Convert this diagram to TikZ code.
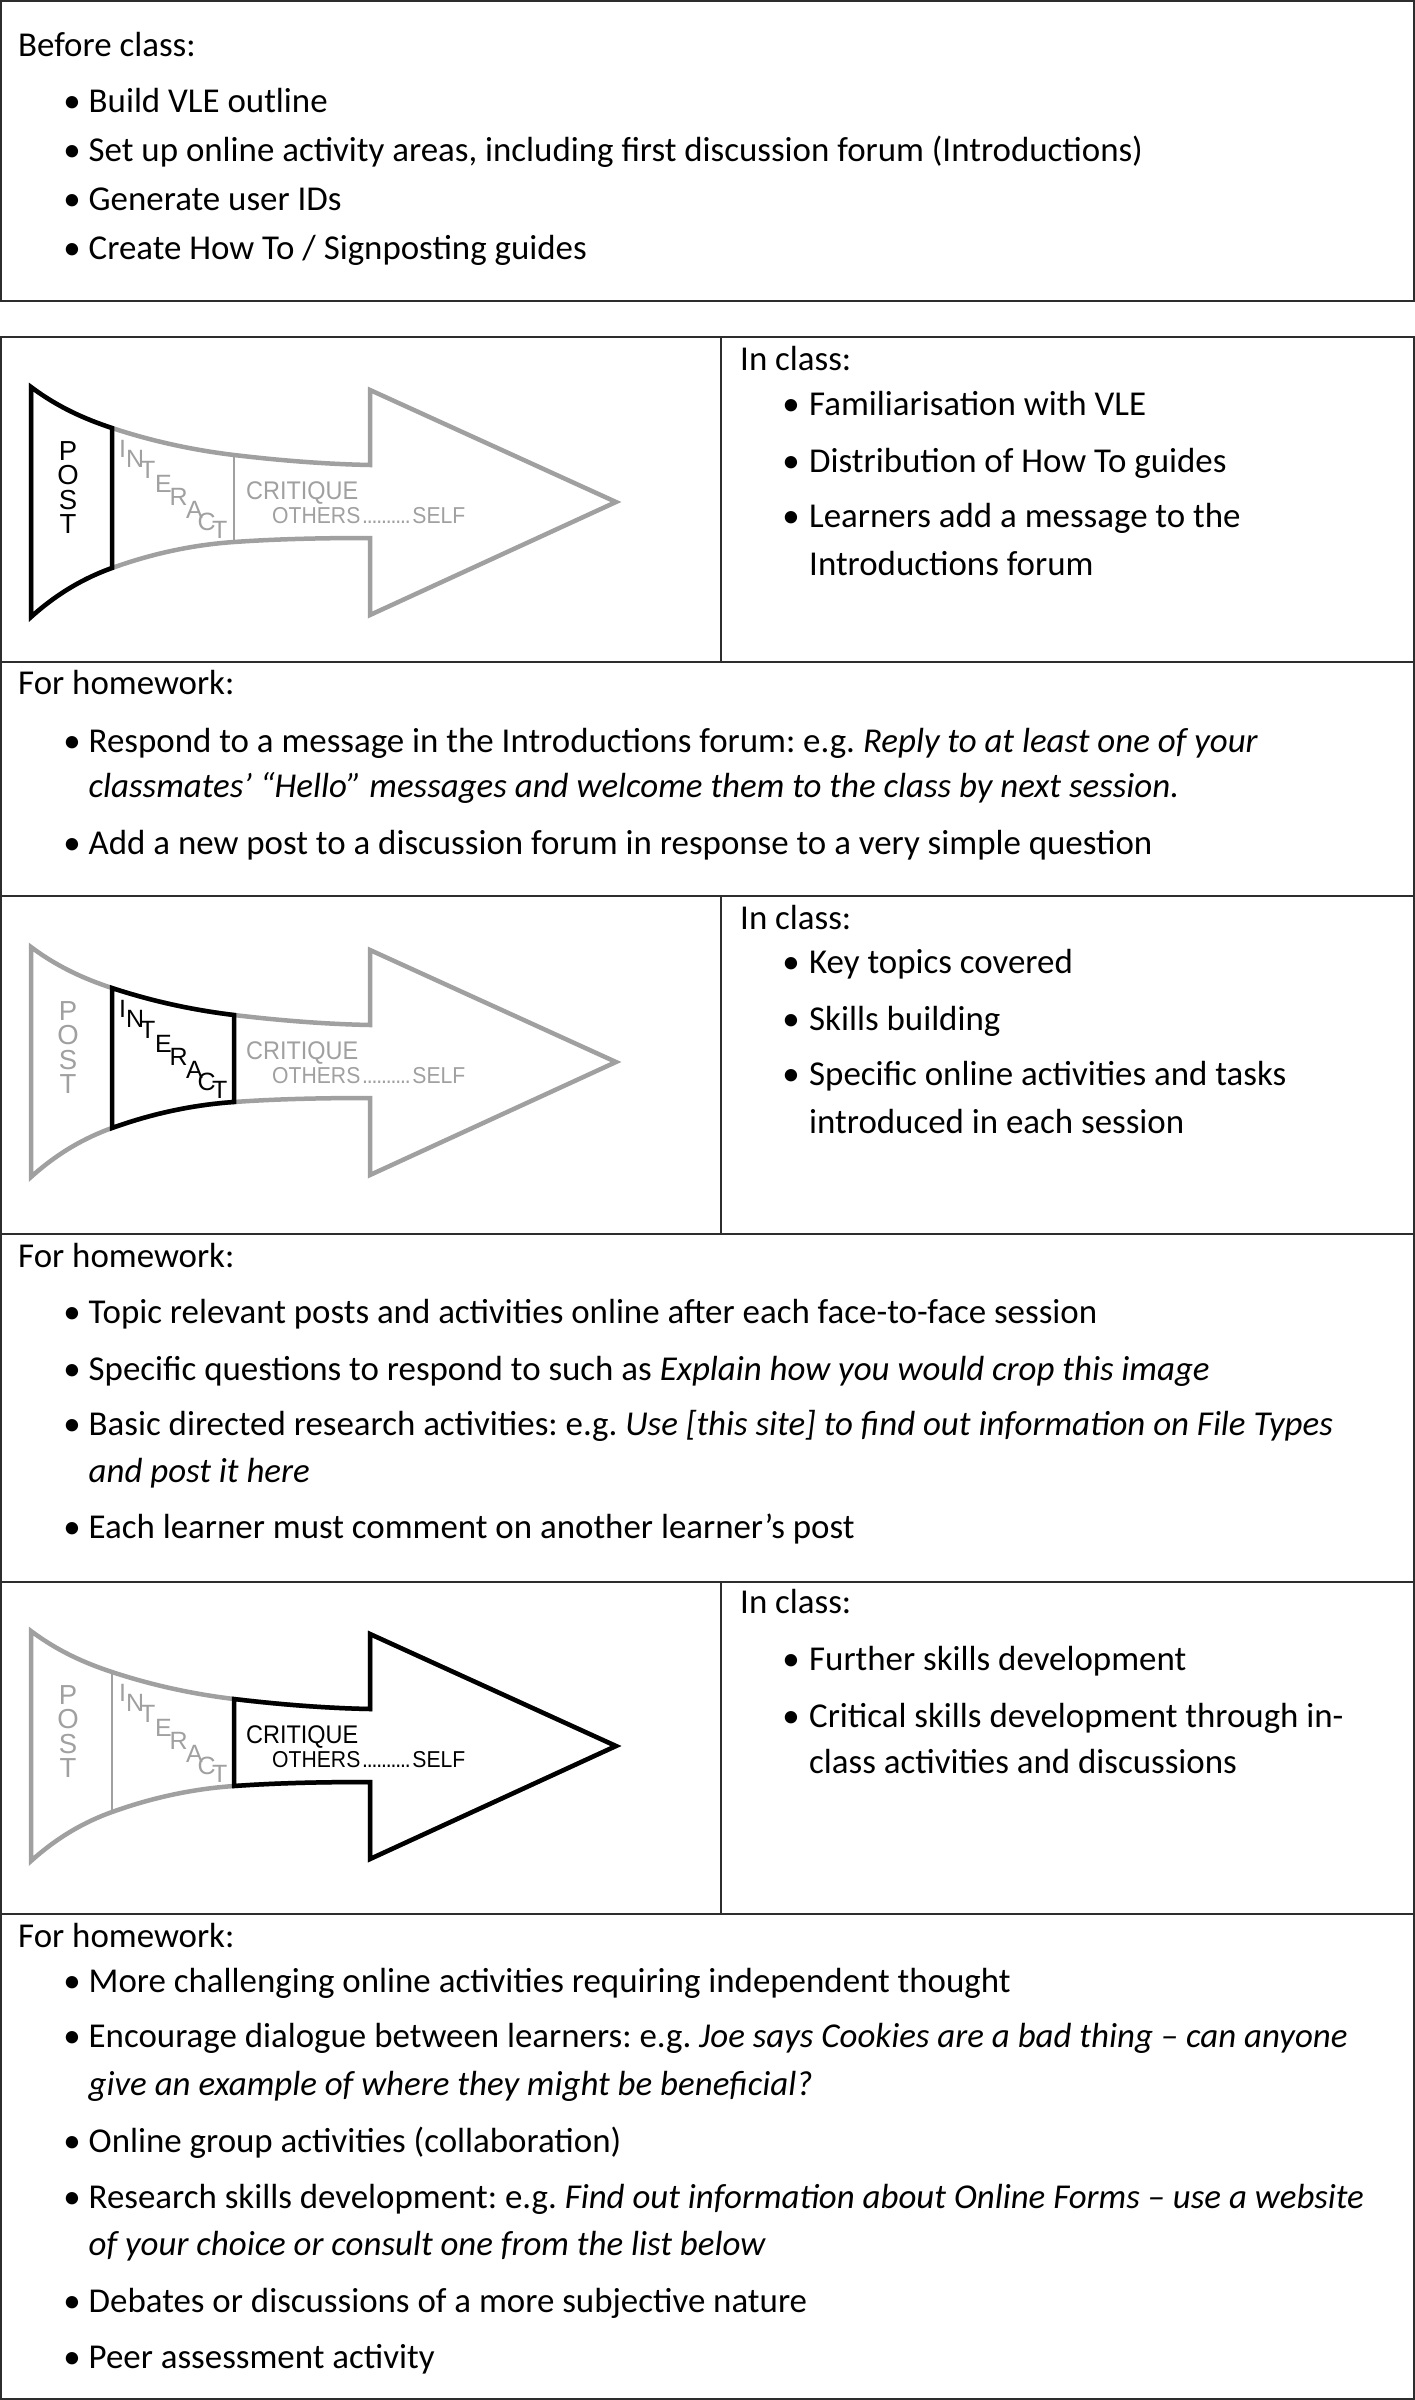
\documentclass[tikz,border=0pt]{standalone}
\usepackage{fontspec}
\setmainfont{Carlito}
\newfontfamily\arrfont[FakeStretch=0.92]{Liberation Sans}
\newfontfamily\letfont{Liberation Sans}
\definecolor{agrey}{RGB}{160,160,160}
\definecolor{rulec}{RGB}{45,45,45}
\frenchspacing
\newcommand\dotrun{\hbox to 52pt{\cleaders\hbox to 4.73pt{\hss.\hss}\hfill}}
\newcommand\flowarrow[6]{%
\begin{scope}[shift={(0,#2)}]
\draw[gline] (31,-115) .. controls (58,-94.75) and (85,-82.9) .. (112,-74)
  .. controls (152.7,-60.6) and (193.3,-51.9) .. (234,-47)
  .. controls (279.3,-41.6) and (324.7,-37.9) .. (370,-37)
  -- (370,-112) -- (616,0) -- (370,113) -- (370,36)
  .. controls (324.7,36) and (279.3,36.8) .. (234,40)
  .. controls (193.3,42.8) and (152.7,51.4) .. (112,66)
  .. controls (85,75.7) and (58,90.7) .. (31,115) -- cycle;
\draw[gdiv] (112,-74) -- (112,66);
\draw[gdiv] (234,-47) -- (234,40);
#6
\foreach \l/\y [count=\k] in {P/-42,O/-17.5,S/7,T/31.5}
  \node[postlt,text=#3] (#1p\k) at (68,\y) {\l};
\foreach \l/\x/\y [count=\k] in {I/119/-45,N/126/-35,T/140/-24,E/155/-10,R/169.5/3,A/186/16,C/197.5/28,T/212/36}
  \node[intlt,text=#4] (#1i\k) at (\x,\y) {\l};
\node[critlt,text=#5] (#1c) at (246,-3) {CRITIQUE};
\node[othlt,text=#5] (#1o) at (272,21) {OTHERS\dotrun SELF};
\end{scope}}
\begin{document}
\begin{tikzpicture}[x=1pt,y=-1pt,
  txt/.style={anchor=base west, inner sep=0pt, font=\fontsize{34.9}{42}\selectfont},
  bul/.style={anchor=base, inner sep=0pt, font=\fontsize{34.9}{42}\selectfont},
  tbl/.style={draw=rulec, line width=2pt},
  gline/.style={draw=agrey, line width=4.5pt, line join=miter},
  gdiv/.style={draw=agrey, line width=2.2pt},
  bline/.style={draw=black, line width=4.5pt, line join=miter},
  postlt/.style={anchor=base, inner sep=0pt, text height=19pt, text depth=0pt, font=\letfont\fontsize{27.5}{27.5}\selectfont},
  intlt/.style={anchor=base west, inner sep=0pt, text height=10pt, text depth=0pt, font=\letfont\fontsize{25}{25}\selectfont},
  critlt/.style={anchor=base west, inner sep=0pt, font=\arrfont\fontsize{25.5}{25.5}\selectfont},
  othlt/.style={anchor=base west, inner sep=0pt, font=\arrfont\fontsize{23}{23}\selectfont}]
\useasboundingbox (0,0) rectangle (1415,2400);
\fill[white] (0,0) rectangle (1415,2400);

% ---- boxes and rules
\draw[tbl] (1,1) rectangle (1414,301);
\draw[tbl] (1,337) rectangle (1414,2399);
\foreach \yy in {662,896,1234,1582,1914} \draw[tbl] (1,\yy) -- (1414,\yy);
\draw[tbl] (721,337) -- (721,662);
\draw[tbl] (721,896) -- (721,1234);
\draw[tbl] (721,1582) -- (721,1914);

% ---- arrows
\flowarrow{ra}{502}{black}{agrey}{agrey}{%
  \draw[bline] (31,-115) .. controls (58,-94.75) and (85,-82.9) .. (112,-74) -- (112,66)
   .. controls (85,75.7) and (58,90.7) .. (31,115) -- cycle;}
\flowarrow{rb}{1062}{agrey}{black}{agrey}{%
  \draw[bline] (112,-74) .. controls (152.7,-60.6) and (193.3,-51.9) .. (234,-47) -- (234,40)
   .. controls (193.3,42.8) and (152.7,51.4) .. (112,66) -- cycle;}
\flowarrow{rc}{1746}{agrey}{agrey}{black}{%
  \draw[bline] (234,-47) .. controls (279.3,-41.6) and (324.7,-37.9) .. (370,-37)
   -- (370,-112) -- (616,0) -- (370,113) -- (370,36)
   .. controls (324.7,36) and (279.3,36.8) .. (234,40) -- cycle;}

% ---- Before class
\node[txt] (bc) at (18,57) {Before class:};
\node[bul] (bcb1) at (72,113) {•}; \node[txt] (bct1) at (88.5,113) {Build VLE outline};
\node[bul] (bcb2) at (72,162) {•}; \node[txt] (bct2) at (88.5,162) {Set up online activity areas, including first discussion forum (Introductions)};
\node[bul] (bcb3) at (72,211) {•}; \node[txt] (bct3) at (88.5,211) {Generate user IDs};
\node[bul] (bcb4) at (72,259) {•}; \node[txt] (bct4) at (88.5,259) {Create How To / Signposting guides};

% ---- In class 1
\node[txt] (ica) at (740,370) {In class:};
\node[bul] (icab1) at (791,415) {•}; \node[txt] (icat1) at (809,415) {Familiarisation with VLE};
\node[bul] (icab2) at (791,472) {•}; \node[txt] (icat2) at (809,472) {Distribution of How To guides};
\node[bul] (icab3) at (791,527) {•}; \node[txt] (icat3) at (809,527) {Learners add a message to the};
\node[txt] (icat3b) at (809,575) {Introductions forum};

% ---- Homework 1
\node[txt] (hwa) at (18,694) {For homework:};
\node[bul] (hwab1) at (72,752) {•}; \node[txt] (hwat1) at (88.5,752) {Respond to a message in the Introductions forum: e.g. \textit{Reply to at least one of your}};
\node[txt] (hwat1b) at (88.5,797) {\textit{classmates’ “Hello” messages and welcome them to the class by next session.}};
\node[bul] (hwab2) at (72,854) {•}; \node[txt] (hwat2) at (88.5,854) {Add a new post to a discussion forum in response to a very simple question};

% ---- In class 2
\node[txt] (icb) at (740,929) {In class:};
\node[bul] (icbb1) at (791,973) {•}; \node[txt] (icbt1) at (809,973) {Key topics covered};
\node[bul] (icbb2) at (791,1030) {•}; \node[txt] (icbt2) at (809,1030) {Skills building};
\node[bul] (icbb3) at (791,1085) {•}; \node[txt] (icbt3) at (809,1085) {Specific online activities and tasks};
\node[txt] (icbt3b) at (809,1133) {introduced in each session};

% ---- Homework 2
\node[txt] (hwb) at (18,1267) {For homework:};
\node[bul] (hwbb1) at (72,1323) {•}; \node[txt] (hwbt1) at (88.5,1323) {Topic relevant posts and activities online after each face-to-face session};
\node[bul] (hwbb2) at (72,1380) {•}; \node[txt] (hwbt2) at (88.5,1380) {Specific questions to respond to such as \textit{Explain how you would crop this image}};
\node[bul] (hwbb3) at (72,1435) {•}; \node[txt] (hwbt3) at (88.5,1435) {Basic directed research activities: e.g. \textit{Use [this site] to find out information on File Types}};
\node[txt] (hwbt3b) at (88.5,1482) {\textit{and post it here}};
\node[bul] (hwbb4) at (72,1538) {•}; \node[txt] (hwbt4) at (88.5,1538) {Each learner must comment on another learner’s post};

% ---- In class 3
\node[txt] (icc) at (740,1613) {In class:};
\node[bul] (iccb1) at (791,1670) {•}; \node[txt] (icct1) at (809,1670) {Further skills development};
\node[bul] (iccb2) at (791,1727) {•}; \node[txt] (icct2) at (809,1727) {Critical skills development through in-};
\node[txt] (icct2b) at (809,1773) {class activities and discussions};

% ---- Homework 3
\node[txt] (hwc) at (18,1947) {For homework:};
\node[bul] (hwcb1) at (72,1992) {•}; \node[txt] (hwct1) at (88.5,1992) {More challenging online activities requiring independent thought};
\node[bul] (hwcb2) at (72,2047) {•}; \node[txt] (hwct2) at (88.5,2047) {Encourage dialogue between learners: e.g. \textit{Joe says Cookies are a bad thing – can anyone}};
\node[txt] (hwct2b) at (88.5,2095) {\textit{give an example of where they might be beneficial?}};
\node[bul] (hwcb3) at (72,2152) {•}; \node[txt] (hwct3) at (88.5,2152) {Online group activities (collaboration)};
\node[bul] (hwcb4) at (72,2208) {•}; \node[txt] (hwct4) at (88.5,2208) {Research skills development: e.g. \textit{Find out information about Online Forms – use a website}};
\node[txt] (hwct4b) at (88.5,2255) {\textit{of your choice or consult one from the list below}};
\node[bul] (hwcb5) at (72,2312) {•}; \node[txt] (hwct5) at (88.5,2312) {Debates or discussions of a more subjective nature};
\node[bul] (hwcb6) at (72,2368) {•}; \node[txt] (hwct6) at (88.5,2368) {Peer assessment activity};
\end{tikzpicture}
\end{document}
